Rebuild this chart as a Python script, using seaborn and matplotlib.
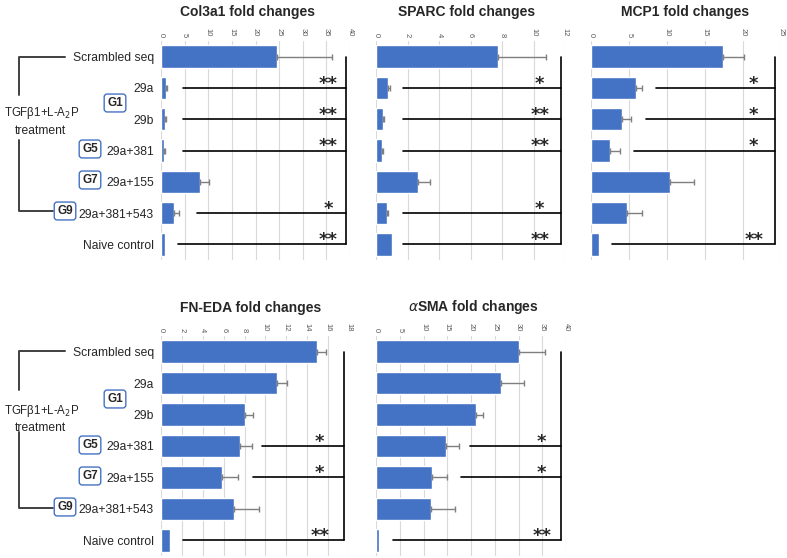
import numpy as np
import pandas as pd
import matplotlib.pyplot as plt
import seaborn as sns
from matplotlib.lines import Line2D

sns.set_style("white")
plt.rcParams['font.family'] = ['Liberation Sans', 'DejaVu Sans']

# === Datos ===
categories = ["Scrambled seq", "29a", "29b", "29a+381", "29a+155", "29a+381+543", "Naive control"]

col3a1_mean = [24.6, 1.1, 0.9, 0.7, 8.3, 2.7, 0.8]
col3a1_err = [11.5, 0.2, 0.2, 0.2, 1.9, 1.2, 0.0]
sparc_mean = [7.77, 0.74, 0.47, 0.38, 2.67, 0.68, 0.99]
sparc_err = [3.0, 0.15, 0.05, 0.05, 0.76, 0.08, 0.0]
mcp1_mean = [17.4, 5.9, 4.1, 2.5, 10.4, 4.8, 1.0]
mcp1_err = [2.7, 0.8, 1.2, 1.3, 3.1, 1.95, 0.0]
fneda_mean = [14.94, 11.12, 8.06, 7.58, 5.8, 7.0, 0.86]
fneda_err = [0.89, 0.95, 0.76, 1.15, 1.62, 2.37, 0.0]
asma_mean = [30.2, 26.3, 21.05, 14.8, 11.7, 11.6, 0.7]
asma_err = [5.4, 4.9, 1.45, 2.6, 3.3, 5.0, 0.0]

# significancia: (fila, inicio de la línea, estrellas)
col3a1_sig = [(1, 4.6, "**"), (2, 4.6, "**"), (3, 4.6, "**"), (5, 7.7, "*"), (6, 3.5, "**")]
sparc_sig = [(1, 1.7, "*"), (2, 1.7, "**"), (3, 1.7, "**"), (5, 1.7, "*"), (6, 1.7, "**")]
mcp1_sig = [(1, 8.6, "*"), (2, 7.2, "*"), (3, 5.7, "*"), (6, 2.8, "**")]
fneda_sig = [(3, 9.7, "*"), (4, 8.8, "*"), (6, 2.1, "**")]
asma_sig = [(3, 19.7, "*"), (4, 17.9, "*"), (6, 3.5, "**")]

BAR = "#4472C4"
W, H = 787, 558
fig = plt.figure(figsize=(W / 100, H / 100), dpi=100)


def px_axes(x0, y0, x1, y1):
    return fig.add_axes([x0 / W, 1 - y1 / H, (x1 - x0) / W, (y1 - y0) / H])


def fig_line(xs, ys):
    fig.add_artist(Line2D([x / W for x in xs], [1 - y / H for y in ys],
                          transform=fig.transFigure, color="#404040", lw=1.4))


def panel(ax, means, errs, xmax, step, vx, sig, star_x, title, title_xy, labels):
    df = pd.DataFrame({"grupo": categories, "valor": means})
    sns.barplot(data=df, x="valor", y="grupo", orient="h", color=BAR, saturation=1,
                width=0.72, ax=ax)
    rows = [i for i, e in enumerate(errs) if e > 0]
    ax.errorbar([means[i] for i in rows], rows, xerr=[[0] * len(rows), [errs[i] for i in rows]],
                fmt="none", ecolor="#7f7f7f", elinewidth=1, capsize=2, capthick=1)
    ax.plot([vx, vx], [0, 6], color="black", lw=1.2, clip_on=False)
    for row, start, stars in sig:
        ax.plot([start, vx], [row, row], color="black", lw=1.2, clip_on=False)
        ax.text(star_x, row + 0.03, stars, ha="center", va="baseline", fontsize=13,
                fontweight="bold", family="DejaVu Sans")
    ax.set_xlim(0, xmax)
    ax.set_ylim(6.5, -0.5)
    ax.xaxis.tick_top()
    ax.set_xticks(np.arange(0, xmax + step / 2, step))
    ax.tick_params(axis="x", labelsize=5.5, labelcolor="#595959", length=0, pad=3,
                   labelrotation=-90)
    ax.grid(axis="x", color="#d9d9d9", lw=0.8)
    ax.set_axisbelow(True)
    for s in ax.spines.values():
        s.set_visible(False)
    ax.set_xlabel("")
    ax.set_ylabel("")
    if labels:
        ax.tick_params(axis="y", length=0, pad=5, labelsize=8.7)
    else:
        ax.set_yticklabels([])
        ax.tick_params(axis="y", length=0)
    fig.text(title_xy[0] / W, 1 - title_xy[1] / H, title, ha="center", va="center",
             fontsize=10, fontweight="bold")


# fila superior
ax1 = px_axes(161, 41, 350, 260)
panel(ax1, col3a1_mean, col3a1_err, 40, 5, 39.2, col3a1_sig, 35.4,
      "Col3a1 fold changes", (247, 12), True)
ax2 = px_axes(376, 41, 565, 260)
panel(ax2, sparc_mean, sparc_err, 12, 2, 11.75, sparc_sig, 10.4,
      "SPARC fold changes", (467, 12), False)
ax3 = px_axes(591, 41, 781, 260)
panel(ax3, mcp1_mean, mcp1_err, 25, 5, 24.2, mcp1_sig, 21.4,
      "MCP1 fold changes", (685, 12), False)

# fila inferior
ax4 = px_axes(161, 336, 349, 556)
panel(ax4, fneda_mean, fneda_err, 18, 2, 17.5, fneda_sig, 15.2,
      "FN-EDA fold changes", (251, 308), True)
ax5 = px_axes(376, 336, 566, 556)
panel(ax5, asma_mean, asma_err, 40, 5, 39.0, asma_sig, 34.9,
      r"$\alpha$SMA fold changes", (473, 307), False)

# corchetes y etiquetas de grupos
for top, mid_a, mid_b, bot, t1, t2, g1, g5, g7, g9 in [
        (57, 95, 140, 211, 113, 131, 103, 149, 180, 211),
        (351, 390, 432, 508, 411, 428, 399, 445, 476, 507)]:
    fig_line([65, 19, 19], [top, top, mid_a])
    fig_line([19, 19, 53], [mid_b, bot, bot])
    fig.text(42 / W, 1 - t1 / H, "TGFβ1+L-A$_2$P", ha="center", va="center", fontsize=8.3)
    fig.text(40 / W, 1 - t2 / H, "treatment", ha="center", va="center", fontsize=8.7)
    for label, gx, gy in [("G1", 115, g1), ("G5", 90, g5), ("G7", 90, g7), ("G9", 65, g9)]:
        fig.text(gx / W, 1 - gy / H, label, ha="center", va="center", fontsize=8.5,
                 fontweight="bold",
                 bbox=dict(boxstyle="round,pad=0.25", fc="white", ec=BAR, lw=1))

fig.savefig("out.png", dpi=100)
